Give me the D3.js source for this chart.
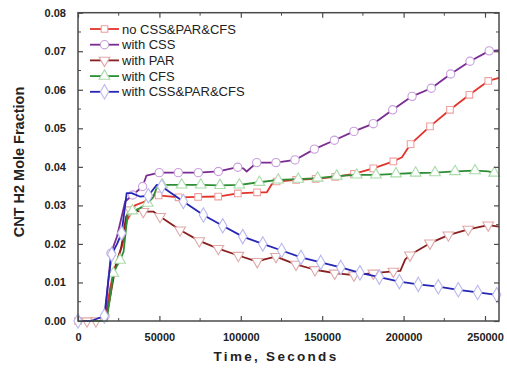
<!DOCTYPE html>
<html>
<head>
<meta charset="utf-8">
<title>CNT H2 Mole Fraction</title>
<script src="https://cdnjs.cloudflare.com/ajax/libs/d3/7.8.5/d3.min.js"></script>
<style>
  body { margin: 0; background: #fff; }
  text { font-family: "Liberation Sans", Arial, sans-serif; }
</style>
</head>
<body>
<script>
// [time, fraction, marker?]
const noAll = [[0,0,1],[8000,0,0],[16500,0,0],[19500,0.008,0],[22000,0.013,0],[25000,0.017,0],[27500,0.020,0],
  [30000,0.026,0],[35000,0.030,0],[41000,0.031,0],[45000,0.0325,0],[49500,0.0326,1],[61800,0.0321,1],
  [73800,0.0322,1],[86100,0.0323,1],[98200,0.0331,1],[110000,0.0334,1],[116000,0.0334,0],[119000,0.0355,0],
  [122000,0.0362,1],[134000,0.0366,1],[146000,0.0369,1],[158000,0.0374,1],[169500,0.0382,1],[181400,0.0396,1],
  [193700,0.0414,1],[199000,0.0425,0],[204300,0.0459,1],[216200,0.0505,1],[228500,0.0548,1],[240400,0.0587,1],
  [252000,0.0623,1],[258600,0.0631,0]];
const withCSS = [[0,0,0],[8000,0,0],[16600,0.0013,1],[18500,0.010,0],[20300,0.0176,1],[24000,0.022,0],
  [29000,0.031,0],[33600,0.0327,1],[39700,0.0349,1],[42000,0.0377,0],[49900,0.0385,1],[61600,0.0385,1],
  [73900,0.0385,1],[86200,0.0388,1],[98100,0.0399,1],[101500,0.0396,0],[103600,0.0388,0],[109800,0.0411,1],
  [121600,0.0411,1],[133300,0.0418,1],[145200,0.0446,1],[157500,0.0469,1],[169500,0.0492,1],[181400,0.0512,1],
  [193300,0.0548,1],[205200,0.0583,1],[217000,0.0604,1],[228900,0.0641,1],[240800,0.0674,1],[252600,0.0701,1],
  [258600,0.0702,0]];
const withPAR = [[0,0,0],[5500,0,1],[11000,0,1],[17000,0,0],[20500,0.008,0],[23000,0.014,0],[26500,0.019,0],
  [29500,0.027,0],[32000,0.0288,1],[40100,0.0284,1],[46200,0.0284,0],[50400,0.0271,1],[62700,0.0236,1],
  [74500,0.0208,1],[86200,0.0188,1],[98500,0.0170,1],[110100,0.0154,1],[114500,0.0160,0],[121600,0.0167,1],
  [133900,0.0147,1],[145600,0.0133,1],[157700,0.0124,1],[169500,0.0119,1],[181400,0.0124,1],[193700,0.0129,1],
  [198000,0.0130,0],[201000,0.0160,0],[203900,0.0171,1],[216200,0.0202,1],[227500,0.0223,1],[239700,0.0238,1],
  [252000,0.0249,1],[258600,0.0245,0]];
const withCFS = [[0,0,0],[17500,0,0],[20000,0.007,0],[21700,0.0124,1],[25800,0.0158,1],[28000,0.018,0],
  [30500,0.028,0],[33400,0.0286,1],[37000,0.029,0],[42800,0.0306,1],[46000,0.032,0],[48300,0.0345,0],
  [51800,0.0353,1],[63700,0.0353,1],[75400,0.0353,1],[87200,0.0352,1],[99100,0.0353,1],[111400,0.0360,1],
  [123000,0.0366,1],[135300,0.0368,1],[147200,0.0371,1],[158900,0.0376,1],[171200,0.0379,1],[183000,0.0379,1],
  [195300,0.0382,1],[207400,0.0384,1],[219300,0.0385,1],[231600,0.0388,1],[243900,0.0390,1],[252000,0.0388,0],
  [255700,0.0384,1],[258600,0.0380,0]];
const withAll = [[0,0,1],[8000,0,0],[16200,0.0013,1],[18500,0.010,0],[20700,0.0173,1],[24000,0.020,0],
  [26800,0.0228,1],[29900,0.0332,0],[33000,0.0332,0],[38000,0.0323,0],[43200,0.0325,1],[48300,0.0353,0],
  [51400,0.0349,1],[64700,0.0310,1],[77000,0.0275,1],[88900,0.0247,1],[101200,0.0219,1],[113500,0.0200,1],
  [125100,0.0183,1],[137000,0.0165,1],[149100,0.0152,1],[161400,0.0139,1],[173200,0.0125,1],[185100,0.0114,1],
  [197400,0.0102,1],[209000,0.0095,1],[221300,0.0089,1],[233600,0.0081,1],[245500,0.0074,1],[257200,0.0068,1],
  [258600,0.0067,0]];

const seriesNames = ["no CSS&PAR&CFS", "with CSS", "with PAR", "with CFS", "with CSS&PAR&CFS"];
const seriesData = [noAll, withCSS, withPAR, withCFS, withAll];
const xTicks = [0, 50000, 100000, 150000, 200000, 250000];
const yTicks = [0, 0.01, 0.02, 0.03, 0.04, 0.05, 0.06, 0.07, 0.08];

const lineColors = ["#e2342a", "#7b2c92", "#8a1f1f", "#2e8e35", "#2626b4"];
const markColors = ["#f0a0a0", "#c8a0dc", "#e0a8a8", "#a8dca8", "#b8b8f0"];
const shapes = [d3.symbolSquare, d3.symbolCircle, "down", d3.symbolTriangle, d3.symbolDiamond];

const w = 507, h = 370;
const pLeft = 78, pRight = 499, pTop = 12.7, pBottom = 321;

const x = d3.scaleLinear().domain([0, 258600]).range([pLeft, pRight]);
const y = d3.scaleLinear().domain([0, 0.08]).range([pBottom, pTop]);

const svg = d3.select("body").append("svg").attr("width", w).attr("height", h);

// series
const line = d3.line().x(d => x(d[0])).y(d => y(d[1]));
const symbolPath = (s, size) => {
  if (s === "down") return d3.symbol(d3.symbolTriangle, size)();
  return d3.symbol(s, size)();
};
const sizes = [44, 54, 50, 50, 60];

seriesData.forEach((data, i) => {
  const g = svg.append("g");
  g.append("path").datum(data)
    .attr("d", line).attr("fill", "none")
    .attr("stroke", lineColors[i]).attr("stroke-width", 1.8)
    .attr("stroke-linejoin", "round");
  g.selectAll("path.m").data(data.filter(d => d[2])).enter().append("path")
    .attr("class", "m")
    .attr("d", symbolPath(shapes[i], sizes[i]))
    .attr("transform", d => `translate(${x(d[0])},${y(d[1])})` + (shapes[i] === "down" ? " rotate(180)" : ""))
    .attr("fill", "#fff").attr("stroke", markColors[i]).attr("stroke-width", 1.1);
});

// axes with inward ticks
const frame = "#4a4a4a";
const minorX = d3.range(25000, 258600, 50000);
const minorY = d3.range(0.005, 0.08, 0.01);

const xAxis = d3.axisBottom(x).tickValues(xTicks).tickFormat(d3.format("d")).tickSizeInner(-5).tickSizeOuter(0).tickPadding(12);
const yAxis = d3.axisLeft(y).tickValues(yTicks).tickFormat(d3.format(".2f")).tickSizeInner(-5).tickSizeOuter(0).tickPadding(12);

const gx = svg.append("g").attr("transform", `translate(0,${pBottom})`).call(xAxis);
const gy = svg.append("g").attr("transform", `translate(${pLeft},0)`).call(yAxis);
[gx, gy].forEach(g => {
  g.select(".domain").remove();
  g.selectAll("line").attr("stroke", frame).attr("stroke-width", 1.2);
  g.selectAll("text").attr("font-size", 11).attr("font-weight", "bold").attr("fill", "#222");
});

svg.append("g").attr("transform", `translate(0,${pTop})`)
  .call(d3.axisTop(x).tickValues(xTicks).tickFormat("").tickSizeInner(-5).tickSizeOuter(0))
  .call(g => g.select(".domain").remove())
  .selectAll("line").attr("stroke", frame).attr("stroke-width", 1.2);
svg.append("g").attr("transform", `translate(${pRight},0)`)
  .call(d3.axisRight(y).tickValues(yTicks).tickFormat("").tickSizeInner(-5).tickSizeOuter(0))
  .call(g => g.select(".domain").remove())
  .selectAll("line").attr("stroke", frame).attr("stroke-width", 1.2);

// minor ticks
const minor = svg.append("g").attr("stroke", frame).attr("stroke-width", 1);
minorX.forEach(v => {
  minor.append("line").attr("x1", x(v)).attr("x2", x(v)).attr("y1", pBottom).attr("y2", pBottom - 3);
  minor.append("line").attr("x1", x(v)).attr("x2", x(v)).attr("y1", pTop).attr("y2", pTop + 3);
});
minorY.forEach(v => {
  minor.append("line").attr("y1", y(v)).attr("y2", y(v)).attr("x1", pLeft).attr("x2", pLeft + 3);
  minor.append("line").attr("y1", y(v)).attr("y2", y(v)).attr("x1", pRight).attr("x2", pRight - 3);
});

svg.append("rect").attr("x", pLeft).attr("y", pTop)
  .attr("width", pRight - pLeft).attr("height", pBottom - pTop)
  .attr("fill", "none").attr("stroke", frame).attr("stroke-width", 1.5);

// legend
const legend = svg.append("g");
seriesNames.forEach((name, i) => {
  const ly = 29 + i * 15.7;
  legend.append("line").attr("x1", 90).attr("x2", 119).attr("y1", ly).attr("y2", ly)
    .attr("stroke", lineColors[i]).attr("stroke-width", 1.8);
  legend.append("path").attr("d", symbolPath(shapes[i], sizes[i]))
    .attr("transform", `translate(104.5,${ly})` + (shapes[i] === "down" ? " rotate(180)" : ""))
    .attr("fill", "#fff").attr("stroke", markColors[i]).attr("stroke-width", 1.1);
  legend.append("text").attr("x", 122).attr("y", ly + 4.5)
    .attr("font-size", 13).attr("fill", "#222").text(name);
});

// axis titles
svg.append("text").attr("transform", `translate(24,162) rotate(-90)`)
  .attr("text-anchor", "middle").attr("font-size", 14.5).attr("font-weight", "bold")
  .attr("fill", "#222").text("CNT H2 Mole Fraction");
svg.append("text").attr("x", 276).attr("y", 361)
  .attr("text-anchor", "middle").attr("font-size", 13.5).attr("font-weight", "bold")
  .attr("letter-spacing", 2.3).attr("fill", "#222").text("Time, Seconds");
</script>
</body>
</html>
